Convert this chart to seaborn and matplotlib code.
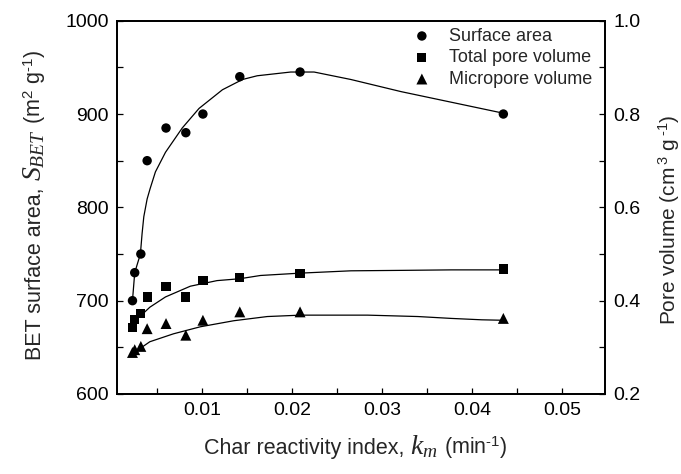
import matplotlib
matplotlib.use("Agg")
import matplotlib.pyplot as plt
import seaborn as sns
import pandas as pd
from matplotlib.ticker import MultipleLocator, FixedLocator, FormatStrFormatter

# ---- data ----
km = [0.00227, 0.00252, 0.0032, 0.0039, 0.006, 0.0082, 0.0101, 0.0142, 0.0209, 0.0435]
surface_area = [700, 730, 750, 850, 885, 880, 900, 940, 945, 900]
total_pore_volume = [0.343, 0.359, 0.373, 0.408, 0.430, 0.408, 0.443, 0.449, 0.459, 0.468]
micropore_volume = [0.289, 0.295, 0.302, 0.340, 0.351, 0.326, 0.358, 0.376, 0.376, 0.362]

sa_fit_x = [0.00227, 0.00252, 0.00315, 0.00334, 0.00353, 0.0039, 0.00423, 0.00482, 0.00594,
            0.0078, 0.00967, 0.01227, 0.0145, 0.01614, 0.01986, 0.02246, 0.02655, 0.03213, 0.04344]
sa_fit_y = [700, 730, 750, 772, 790, 809, 820, 838, 859, 885, 906, 926, 937, 941, 945, 945,
            937, 924, 901]
tpv_fit_x = [0.00315, 0.0042, 0.00594, 0.0087, 0.01167, 0.0142, 0.0165, 0.0209, 0.02655,
             0.0325, 0.0377, 0.0435]
tpv_fit_y = [0.367, 0.386, 0.408, 0.431, 0.443, 0.447, 0.454, 0.459, 0.464, 0.465, 0.466, 0.466]
mpv_fit_x = [0.00315, 0.0042, 0.00683, 0.0098, 0.01353, 0.01726, 0.02097, 0.0284, 0.034,
             0.0377, 0.0411, 0.0435]
mpv_fit_y = [0.298, 0.312, 0.329, 0.344, 0.357, 0.366, 0.369, 0.369, 0.366, 0.362, 0.359, 0.358]

x_ticks = [0.01, 0.02, 0.03, 0.04, 0.05]
x_tick_labels = ["0.01", "0.02", "0.03", "0.04", "0.05"]
left_ticks = [600, 700, 800, 900, 1000]
right_ticks = [0.2, 0.4, 0.6, 0.8, 1.0]

sns.set_style("ticks")
plt.rcParams["font.family"] = ["Liberation Sans", "DejaVu Sans"]
plt.rcParams["mathtext.fontset"] = "custom"
plt.rcParams["mathtext.rm"] = "Liberation Sans"
plt.rcParams["mathtext.it"] = "Liberation Serif:italic"
plt.rcParams["mathtext.bf"] = "Liberation Sans:bold"

W, H = 681, 474
fig = plt.figure(figsize=(W / 100, H / 100), dpi=100)
ax = fig.add_axes([117 / W, 1 - 394 / H, (605 - 117) / W, (394 - 20.7) / H])
ax2 = ax.twinx()

df_pts = pd.DataFrame({"km": km, "sa": surface_area, "tpv": total_pore_volume,
                       "mpv": micropore_volume})

lw = 0.9
sns.lineplot(x=sa_fit_x, y=sa_fit_y, ax=ax, color="black", linewidth=lw, sort=False,
             estimator=None)
sns.lineplot(x=tpv_fit_x, y=tpv_fit_y, ax=ax2, color="black", linewidth=lw, sort=False,
             estimator=None)
sns.lineplot(x=mpv_fit_x, y=mpv_fit_y, ax=ax2, color="black", linewidth=lw, sort=False,
             estimator=None)

h1 = ax.scatter(df_pts["km"], df_pts["sa"], marker="o", s=46, color="black",
                edgecolor="none", label="Surface area", zorder=3)
sns.scatterplot(data=df_pts, x="km", y="tpv", ax=ax2, marker="s", s=44, color="black",
                edgecolor="none", label="Total pore volume", zorder=3)
sns.scatterplot(data=df_pts, x="km", y="mpv", ax=ax2, marker="^", s=62, color="black",
                edgecolor="none", label="Micropore volume", zorder=3)

ax.set_xlim(0.00055, 0.0548)
ax.set_ylim(600, 1000)
ax2.set_ylim(0.2, 1.0)

ax.xaxis.set_major_locator(FixedLocator(x_ticks))
ax.set_xticklabels(x_tick_labels)
ax.xaxis.set_minor_locator(MultipleLocator(0.005))
ax.yaxis.set_major_locator(FixedLocator(left_ticks))
ax.yaxis.set_minor_locator(MultipleLocator(50))
ax2.yaxis.set_major_locator(FixedLocator(right_ticks))
ax2.yaxis.set_minor_locator(MultipleLocator(0.1))
ax2.yaxis.set_major_formatter(FormatStrFormatter("%.1f"))

for a in (ax, ax2):
    for s in a.spines.values():
        s.set_linewidth(1.3)
        s.set_color("black")
    a.tick_params(which="both", direction="in", length=4, width=0.9, colors="black",
                  labelsize=14, pad=6)
ax.tick_params(axis="x", which="both", top=False)
ax.tick_params(axis="y", which="both", right=False)
ax2.tick_params(axis="y", which="both", left=False, right=True)
ax.set_xlabel("")
ax.set_ylabel("")
ax2.set_ylabel("")

# ---- axis labels built from pieces (larger serif italic symbols) ----
renderer = fig.canvas.get_renderer()
REG = 15.5
BIG = 20


def piece_width(text, size):
    t = fig.text(0, 0, text, fontsize=size)
    w = t.get_window_extent(renderer).width
    t.remove()
    return w


def draw_label(pieces, center, base, rotation, size_ref=REG):
    space = piece_width("a a", size_ref) - piece_width("aa", size_ref)
    widths = [piece_width(s, sz) for s, sz, _ in pieces]
    gaps = [space if g else 0 for _, _, g in pieces]
    total = sum(widths) + sum(gaps)
    pos = center - total / 2
    for (s, sz, g), w, gap in zip(pieces, widths, gaps):
        pos += gap
        if rotation == 0:
            fig.text(pos / W, base / H, s, fontsize=sz, ha="left", va="baseline",
                     rotation=0, rotation_mode="anchor")
        else:
            fig.text(base / W, pos / H, s, fontsize=sz, ha="left", va="baseline",
                     rotation=90, rotation_mode="anchor")
        pos += w


draw_label([("Char reactivity index,", REG, False),
            ("$k_m$", BIG, True),
            (r"(min$^{\text{-}1}$)", REG, True)],
           center=355.5, base=H - 454, rotation=0)
draw_label([("BET surface area,", REG, False),
            ("$S_{BET}$", BIG, True),
            (r"(m$^2$ g$^{\text{-}1}$)", REG, True)],
           center=H - 205, base=41.5, rotation=90)
draw_label([(r"Pore volume (cm$\,^3$ g$\,^{\text{-}1}$)", 15, False)],
           center=H - 220, base=676, rotation=90, size_ref=15)

handles2, labels2 = ax2.get_legend_handles_labels()
if ax2.get_legend() is not None:
    ax2.get_legend().remove()
leg = ax2.legend([h1] + handles2, ["Surface area"] + labels2, loc="upper left",
                 bbox_to_anchor=((402 - 117) / 488, 1.0 + 2 / 373), frameon=False,
                 fontsize=13, handletextpad=0.9, labelspacing=0.25, borderpad=0.0,
                 handlelength=1.2)

fig.savefig("out.png", dpi=100)
